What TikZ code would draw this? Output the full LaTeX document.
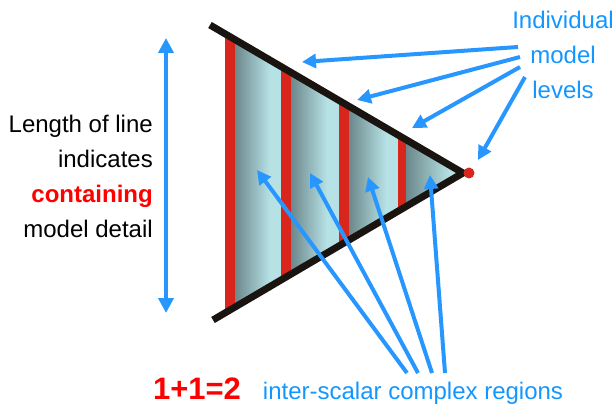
\documentclass[tikz,border=0pt]{standalone}
\usepackage{fontspec}
\setmainfont{Liberation Sans}
\usepackage{xcolor}
\usetikzlibrary{arrows.meta,calc}
\definecolor{arrowblue}{RGB}{40,150,255}
\definecolor{labelblue}{RGB}{20,150,255}
\definecolor{barred}{RGB}{217,38,28}
\definecolor{edgeblack}{RGB}{26,20,16}
\definecolor{shadedark}{RGB}{108,136,140}
\definecolor{shadelight}{RGB}{182,226,229}

\begin{document}
\begin{tikzpicture}[x=1pt, y=-1pt,
    pointer/.style={arrowblue, line width=4pt, -{Triangle[length=14pt, width=14pt]}},
    label/.style={font=\fontsize{24}{35}\selectfont, inner sep=0pt}]

\useasboundingbox (0,0) rectangle (615,406);

\coordinate (top) at (210,25);
\coordinate (tip) at (463,173);
\coordinate (bottom) at (213,320);

\begin{scope}
\clip (top) -- (tip) -- (bottom) -- cycle;
\shade[left color=shadedark, right color=shadelight] (235,0) rectangle (270,406);
\fill[shadelight] (270,0) rectangle (281,406);
\shade[left color=shadedark, right color=shadelight] (291,0) rectangle (327,406);
\fill[shadelight] (327,0) rectangle (339,406);
\shade[left color=shadedark, right color=shadelight] (349,0) rectangle (386,406);
\fill[shadelight] (386,0) rectangle (398,406);
\shade[left color=shadedark, right color=shadelight] (406,0) rectangle (450,406);
\fill[shadelight] (450,0) rectangle (470,406);
\fill[barred] (225,0) rectangle (235,406);
\fill[barred] (281,0) rectangle (291,406);
\fill[barred] (339,0) rectangle (349,406);
\fill[barred] (398,0) rectangle (406,406);
\end{scope}

\draw[edgeblack, line width=7pt, line join=round] (top) -- (tip) -- (bottom);
\fill[barred] (469,173) circle (5.5pt);

\draw[arrowblue, line width=4pt, {Triangle[length=15pt, width=15pt]}-{Triangle[length=15pt, width=15pt]}]
    (166,38) -- (166,313);

\node[label, align=right, anchor=east] (lblLength) at (153,176)
    {Length of line\\indicates\\\textcolor{red}{\bfseries containing}\\model detail};

\node[label, align=center, text=labelblue] (lblLevels) at (563,55) {Individual\\model\\levels};

\node[font=\fontsize{31}{36}\selectfont\bfseries, text=red, anchor=base, inner sep=0pt] (lblSum) at (197,399) {1+1=2};
\node[label, text=labelblue, anchor=base] (lblRegions) at (413,399) {inter-scalar complex regions};

\coordinate (lv1) at (518,47);
\coordinate (lv2) at (520,57);
\coordinate (lv3) at (520,67);
\coordinate (lv4) at (525,77);
\draw[pointer] (lv1) -- (302,62);
\draw[pointer] (lv2) -- (357,100);
\draw[pointer] (lv3) -- (412,128);
\draw[pointer] (lv4) -- (478,160);

\coordinate (rg1) at (407,373);
\coordinate (rg2) at (418,373);
\coordinate (rg3) at (432,373);
\coordinate (rg4) at (445,373);
\draw[pointer] (rg1) -- (257,170);
\draw[pointer] (rg2) -- (310,173);
\draw[pointer] (rg3) -- (368,177);
\draw[pointer] (rg4) -- (430,175);

\end{tikzpicture}
\end{document}
